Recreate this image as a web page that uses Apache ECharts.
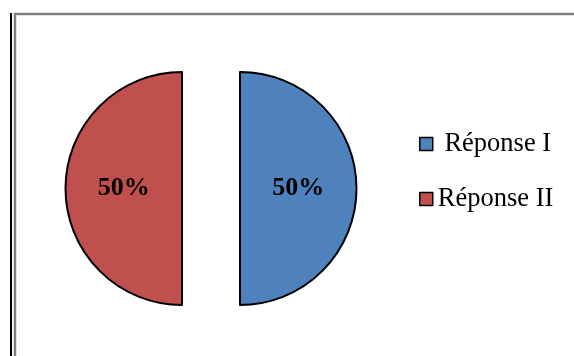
<!DOCTYPE html>
<html>
<head>
<meta charset="utf-8">
<script src="https://cdn.jsdelivr.net/npm/echarts@6/dist/echarts.min.js"></script>
<style>html,body{margin:0;padding:0;background:#fff}#c{width:574px;height:356px}</style>
</head>
<body>
<div id="c"></div>
<script>
const categories = ['Réponse I', 'Réponse II'];
const values = [50, 50];
const colors = ['#4F81BD', '#C0504D'];

const chart = echarts.init(document.getElementById('c'), null, {renderer: 'canvas'});
const labelPads = [[6, 6, 0, 0], [6, 0, 0, 6]];
chart.setOption({
  animation: false,
  backgroundColor: '#ffffff',
  color: colors,
  graphic: [
    {type: 'rect', shape: {x: 15, y: 14, width: 600, height: 400}, style: {fill: 'none', stroke: '#7f7f7f', lineWidth: 2.5}, silent: true},
    {type: 'line', shape: {x1: 11, y1: 13, x2: 11, y2: 360}, style: {stroke: '#000', lineWidth: 2}, silent: true}
  ],
  legend: {
    orient: 'vertical',
    left: 414,
    top: 124,
    itemWidth: 13,
    itemHeight: 13,
    itemGap: 25,
    icon: 'rect',
    selectedMode: false,
    itemStyle: {borderColor: '#000', borderWidth: 1.5},
    formatter: function (name) { return name === 'Réponse I' ? '\u00a0' + name : name; },
    textStyle: {fontFamily: '"Liberation Serif", "Times New Roman", serif', fontSize: 26.5, color: '#000', lineHeight: 30},
    data: categories
  },
  series: [{
    type: 'pie',
    center: [211, 188.5],
    radius: [0, 116.5],
    startAngle: 90,
    clockwise: true,
    selectedMode: 'multiple',
    selectedOffset: 29,
    silent: true,
    emphasis: {disabled: true},
    itemStyle: {borderColor: '#000', borderWidth: 2},
    label: {
      show: true,
      position: 'inside',
      formatter: '{c}%',
      fontFamily: '"Liberation Serif", "Times New Roman", serif',
      fontWeight: 'bold',
      fontSize: 26,
      color: '#000'
    },
    labelLine: {show: false},
    data: categories.map((n, i) => ({name: n, value: values[i], selected: true, label: {padding: labelPads[i]}}))
  }]
});
</script>
</body>
</html>
